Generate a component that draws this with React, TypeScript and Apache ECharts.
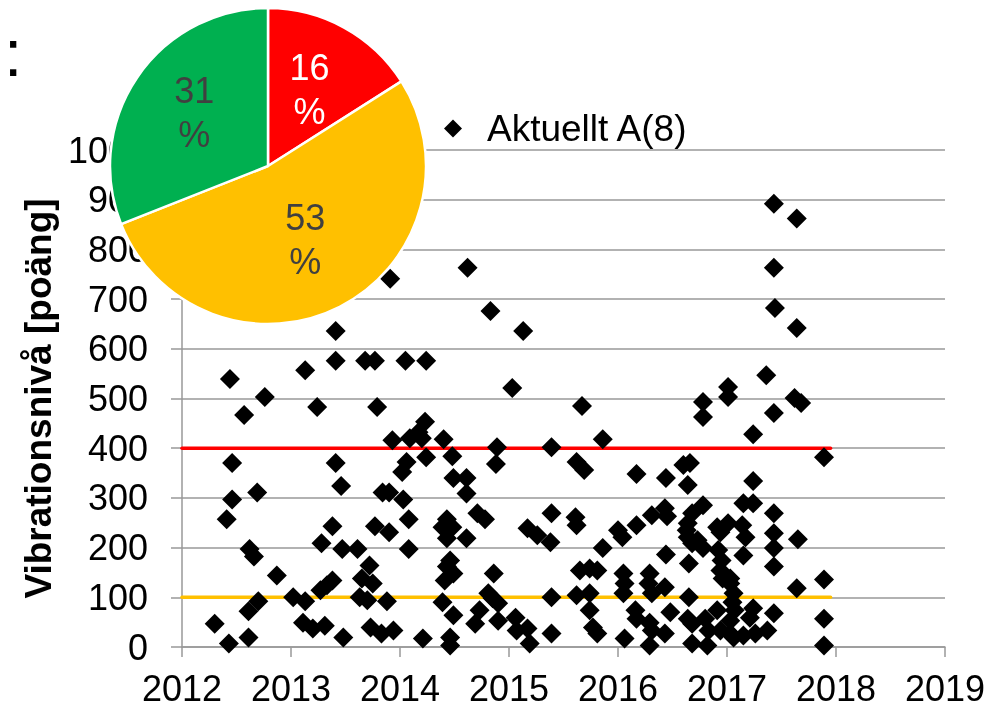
import React, { useEffect, useRef } from "react";
import * as echarts from "echarts";

const FONT = "'Liberation Sans', Arial, sans-serif";

const seriesName = "Aktuellt A(8)";
const yTitle = "Vibrationsnivå [poäng]";

const pts2012 = [[2012.44,539],[2012.76,503],[2012.57,467],[2012.46,370],[2012.46,297],[2012.69,311],[2012.41,257],[2012.62,197],[2012.66,182],[2012.87,144],[2012.70,92],[2012.61,72],[2012.30,47],[2012.61,19],[2012.43,7]];
const pts2013 = [[2013.02,100],[2013.13,92],[2013.11,49],[2013.20,37],[2013.31,43],[2013.48,19],[2013.73,39],[2013.83,27],[2013.94,33],[2013.13,557],[2013.41,636],[2013.41,576],[2013.68,576],[2013.77,576],[2013.91,741],[2013.24,483],[2013.79,483],[2013.93,416],[2013.41,370],[2013.46,324],[2013.84,311],[2013.90,311],[2013.38,243],[2013.28,209],[2013.47,197],[2013.61,197],[2013.77,243],[2013.90,231],[2013.72,164],[2013.38,134],[2013.33,124],[2013.27,114],[2013.65,138],[2013.75,128],[2013.63,100],[2013.70,94],[2013.88,92]];
const pts2014 = [[2014.05,576],[2014.24,576],[2014.62,763],[2014.83,676],[2014.23,453],[2014.09,420],[2014.17,432],[2014.20,420],[2014.40,418],[2014.24,382],[2014.48,384],[2014.89,402],[2014.88,368],[2014.06,372],[2014.02,352],[2014.49,340],[2014.61,340],[2014.61,309],[2014.03,297],[2014.08,257],[2014.71,269],[2014.78,257],[2014.43,257],[2014.39,241],[2014.48,241],[2014.43,219],[2014.61,219],[2014.08,197],[2014.46,174],[2014.43,162],[2014.49,148],[2014.41,134],[2014.86,148],[2014.81,108],[2014.85,98],[2014.90,88],[2014.73,74],[2014.69,47],[2014.90,53],[2014.39,90],[2014.49,64],[2014.21,17],[2014.46,19],[2014.46,3]];
const pts2015 = [[2015.03,521],[2015.13,636],[2015.67,485],[2015.39,402],[2015.86,418],[2015.62,372],[2015.69,356],[2015.39,269],[2015.61,261],[2015.62,245],[2015.17,239],[2015.26,225],[2015.38,211],[2015.86,199],[2015.65,154],[2015.74,158],[2015.81,154],[2015.39,100],[2015.62,104],[2015.74,108],[2015.74,74],[2015.77,39],[2015.81,27],[2015.06,59],[2015.07,33],[2015.17,37],[2015.19,7],[2015.39,27]];
const pts2016 = [[2016.00,235],[2016.04,221],[2016.17,348],[2016.44,340],[2016.60,366],[2016.66,370],[2016.64,326],[2016.78,493],[2016.78,463],[2017.01,523],[2017.01,503],[2016.17,245],[2016.31,265],[2016.43,279],[2016.45,263],[2016.78,285],[2016.68,269],[2016.64,249],[2016.63,235],[2016.64,221],[2016.68,209],[2016.78,199],[2016.91,241],[2016.94,231],[2017.01,249],[2016.92,195],[2016.95,174],[2016.94,154],[2016.96,138],[2016.44,186],[2016.65,168],[2016.05,148],[2016.06,128],[2016.05,108],[2016.29,148],[2016.28,128],[2016.31,108],[2016.43,120],[2016.65,100],[2016.16,74],[2016.17,57],[2016.29,49],[2016.31,33],[2016.48,70],[2016.64,57],[2016.68,47],[2016.80,57],[2016.83,33],[2016.91,74],[2016.94,33],[2016.06,17],[2016.29,3],[2016.43,27],[2016.68,7],[2016.82,3],[2017.03,27],[2016.73,215],[2017.03,138]];
const pts2017 = [[2017.36,547],[2017.43,471],[2017.24,428],[2017.62,501],[2017.68,491],[2017.43,892],[2017.64,862],[2017.43,763],[2017.44,682],[2017.64,642],[2017.89,382],[2017.24,334],[2017.15,289],[2017.24,289],[2017.43,269],[2017.14,245],[2017.17,221],[2017.43,229],[2017.43,199],[2017.43,162],[2017.65,217],[2017.15,184],[2017.03,128],[2017.06,108],[2017.64,118],[2017.89,136],[2017.89,57],[2017.89,3],[2017.43,68],[2017.24,78],[2017.21,59],[2017.37,33],[2017.26,27],[2017.15,23],[2017.06,19],[2017.07,74],[2017.03,53],[2017.05,90]];

const redLine = [[2012, 400], [2017.95, 400]];
const yellowLine = [[2012, 100], [2017.95, 100]];

const pieNames = ["Över 400", "100–400", "Under 100"];
const pieValues = [16, 53, 31];
const pieColors = ["#FF0000", "#FFC000", "#00B050"];
const pieLabelColors = ["#FFFFFF", "#404040", "#404040"];

const GRID = "#999999";

export default function App() {
  const ref = useRef<HTMLDivElement>(null);
  useEffect(() => {
    if (!ref.current) return;
    const chart = echarts.init(ref.current, null, { renderer: "svg" });
    const allPts = [...pts2012, ...pts2013, ...pts2014, ...pts2015, ...pts2016, ...pts2017];
    chart.setOption({
      animation: false,
      textStyle: { fontFamily: FONT },
      grid: { left: 182, right: 45, top: 150, bottom: 60, containLabel: false },
      legend: {
        data: [{ name: seriesName, icon: "diamond" }],
        left: 439,
        top: 105,
        itemWidth: 18,
        itemHeight: 18,
        itemGap: 10,
        textStyle: { fontSize: 37, color: "#000", fontFamily: FONT, padding: [0, 0, 0, 20] },
      },
      xAxis: {
        type: "value",
        min: 2012,
        max: 2019,
        interval: 1,
        axisLine: { show: true, lineStyle: { color: GRID, width: 1.5 } },
        axisTick: { show: true, length: 10, lineStyle: { color: GRID, width: 1.5 } },
        splitLine: { show: false },
        axisLabel: { fontSize: 36, color: "#000", margin: 23, fontFamily: FONT, formatter: (v: number) => String(v) },
      },
      yAxis: {
        type: "value",
        min: 0,
        max: 1000,
        interval: 100,
        name: yTitle,
        nameLocation: "middle",
        nameGap: 121,
        nameTextStyle: { fontSize: 37, fontWeight: "bold", color: "#000", fontFamily: FONT },
        axisLine: { show: true, lineStyle: { color: GRID, width: 1.5 } },
        axisTick: { show: true, length: 11, lineStyle: { color: GRID, width: 1.5 } },
        splitLine: { show: true, lineStyle: { color: GRID, width: 1.5 } },
        axisLabel: { fontSize: 36, color: "#000", margin: 34, fontFamily: FONT, formatter: (v: number) => String(v) },
      },
      series: [
        {
          type: "line",
          data: yellowLine,
          symbol: "none",
          lineStyle: { color: "#FFC000", width: 3.5, cap: "round" },
          silent: true,
          z: 1,
        },
        {
          type: "line",
          data: redLine,
          symbol: "none",
          lineStyle: { color: "#FF0000", width: 3.5, cap: "round" },
          silent: true,
          z: 1,
        },
        {
          name: seriesName,
          type: "scatter",
          data: allPts,
          symbol: "diamond",
          symbolSize: 20,
          itemStyle: { color: "#000", opacity: 1 },
          z: 3,
        },
        {
          type: "pie",
          center: [268, 166],
          radius: 158,
          startAngle: 90,
          clockwise: true,
          z: 10,
          itemStyle: { borderColor: "#fff", borderWidth: 2.5 },
          label: {
            show: true,
            position: "inside",
            formatter: "{c}\n%",
            fontSize: 36,
            lineHeight: 44,
            fontFamily: FONT,
          },
          labelLine: { show: false },
          data: pieValues.map((v, i) => ({
            name: pieNames[i],
            value: v,
            itemStyle: { color: pieColors[i] },
            label: {
              color: pieLabelColors[i],
              offset: i === 0 ? [2, -5] : i === 2 ? [-6, -7] : [0, 0],
            },
          })),
        },
      ],
      graphic: [
        {
          type: "text",
          left: 4,
          top: 20,
          style: { text: ":", fontSize: 66, fontFamily: FONT, fill: "#000" },
        },
      ],
    });
    return () => chart.dispose();
  }, []);
  return <div ref={ref} style={{ position: "fixed", left: 0, top: 0, width: 990, height: 707 }} />;
}
